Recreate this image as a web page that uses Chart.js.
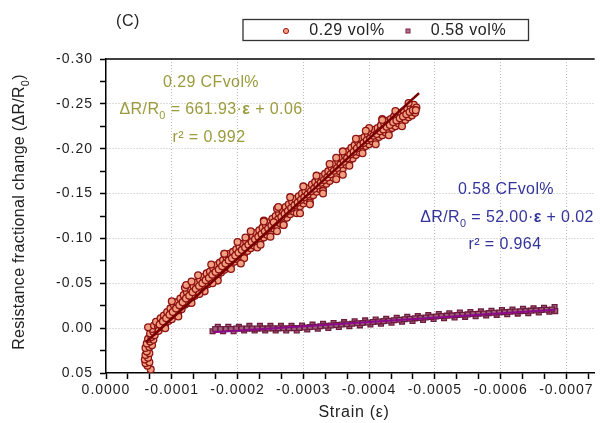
<!DOCTYPE html>
<html><head><meta charset="utf-8">
<script src="https://cdn.jsdelivr.net/npm/chart.js@4"></script>
<style>html,body{margin:0;padding:0;background:#fff;overflow:hidden}canvas{display:block}</style>
</head><body>
<canvas id="c" width="600" height="423"></canvas>
<script>
// ---- data (strain, ΔR/R0) ----
const seriesNames = ['0.29 vol%', '0.58 vol%'];
const series029 = [
[-0.68e-4,0.046],[-0.63e-4,0.042],[-0.60e-4,0.039],[-0.66e-4,0.038],[-0.59e-4,0.035],[-0.64e-4,0.033],[-0.60e-4,0.030],[-0.66e-4,0.028],[-0.62e-4,0.026],[-0.60e-4,0.022],[-0.66e-4,0.021],[-0.70e-4,0.019],[-0.62e-4,0.017],[-0.67e-4,0.015],[-0.72e-4,0.013],[-0.64e-4,0.012],[-0.69e-4,0.010],[-0.74e-4,0.008],[-0.67e-4,0.006],[-0.72e-4,0.004],[-0.77e-4,0.003],[-0.70e-4,0.001],[-0.64e-4,-0.001],[-0.73e-4,-0.003],[-0.79e-4,-0.002],[-0.76e-4,-0.007],[-0.81e-4,0.000],
[-0.80e-4,0.003],[-0.83e-4,-0.011],[-0.85e-4,-0.001],[-0.88e-4,-0.014],[-0.90e-4,-0.004],[-0.93e-4,-0.018],[-0.95e-4,-0.008],[-0.98e-4,-0.022],[-1.00e-4,-0.010],[-1.03e-4,-0.026],[-1.05e-4,-0.015],[-1.08e-4,-0.029],[-1.10e-4,-0.018],[-1.13e-4,-0.033],[-1.15e-4,-0.021],[-1.18e-4,-0.037],[-1.20e-4,-0.026],[-1.23e-4,-0.040],[-1.25e-4,-0.028],[-1.28e-4,-0.044],[-1.30e-4,-0.033],[-1.33e-4,-0.047],[-1.35e-4,-0.036],[-1.38e-4,-0.051],[-1.40e-4,-0.040],[-1.43e-4,-0.054],[-1.45e-4,-0.043],[-1.48e-4,-0.057],[-1.50e-4,-0.046],[-1.53e-4,-0.061],[-1.55e-4,-0.049],[-1.58e-4,-0.063],[-1.60e-4,-0.052],[-1.63e-4,-0.067],[-1.65e-4,-0.055],[-1.68e-4,-0.070],[-1.70e-4,-0.058],[-1.73e-4,-0.073],[-1.75e-4,-0.062],[-1.78e-4,-0.076],[-1.80e-4,-0.065],[-1.83e-4,-0.079],[-1.85e-4,-0.068],[-1.88e-4,-0.083],[-1.90e-4,-0.071],[-1.93e-4,-0.085],[-1.95e-4,-0.074],[-1.98e-4,-0.088],[-2.00e-4,-0.077],[-2.03e-4,-0.091],[-2.05e-4,-0.080],[-2.08e-4,-0.094],[-2.10e-4,-0.083],[-2.13e-4,-0.097],[-2.15e-4,-0.086],[-2.18e-4,-0.100],[-2.20e-4,-0.089],[-2.23e-4,-0.103],[-2.25e-4,-0.092],[-2.28e-4,-0.106],[-2.30e-4,-0.095],[-2.33e-4,-0.109],[-2.35e-4,-0.098],[-2.38e-4,-0.112],[-2.40e-4,-0.101],[-2.43e-4,-0.115],[-2.45e-4,-0.104],[-2.48e-4,-0.118],[-2.50e-4,-0.107],[-2.53e-4,-0.122],[-2.55e-4,-0.111],[-2.58e-4,-0.125],[-2.60e-4,-0.114],[-2.63e-4,-0.128],[-2.65e-4,-0.117],[-2.68e-4,-0.131],[-2.70e-4,-0.120],[-2.73e-4,-0.135],[-2.75e-4,-0.123],[-2.78e-4,-0.138],[-2.80e-4,-0.127],[-2.83e-4,-0.141],[-2.85e-4,-0.130],[-2.88e-4,-0.144],[-2.90e-4,-0.133],[-2.93e-4,-0.147],[-2.95e-4,-0.136],[-2.98e-4,-0.150],[-3.00e-4,-0.139],[-3.03e-4,-0.153],[-3.05e-4,-0.142],[-3.08e-4,-0.156],[-3.10e-4,-0.145],[-3.13e-4,-0.160],[-3.15e-4,-0.148],[-3.18e-4,-0.163],[-3.20e-4,-0.152],[-3.23e-4,-0.166],[-3.25e-4,-0.155],[-3.28e-4,-0.169],[-3.30e-4,-0.158],[-3.33e-4,-0.172],[-3.35e-4,-0.161],[-3.38e-4,-0.175],[-3.40e-4,-0.164],[-3.43e-4,-0.179],[-3.45e-4,-0.168],[-3.48e-4,-0.183],[-3.50e-4,-0.171],[-3.53e-4,-0.186],[-3.55e-4,-0.175],[-3.58e-4,-0.190],[-3.60e-4,-0.178],[-3.63e-4,-0.193],[-3.65e-4,-0.182],[-3.68e-4,-0.197],[-3.70e-4,-0.186],[-3.73e-4,-0.201],[-3.75e-4,-0.189],[-3.78e-4,-0.204],[-3.80e-4,-0.193],[-3.83e-4,-0.208],[-3.85e-4,-0.196],[-3.88e-4,-0.211],[-3.90e-4,-0.200],[-3.93e-4,-0.213],[-3.95e-4,-0.203],[-3.98e-4,-0.216],[-4.00e-4,-0.205],[-4.03e-4,-0.218],[-4.05e-4,-0.208],[-4.08e-4,-0.221],[-4.10e-4,-0.210],[-4.13e-4,-0.223],[-4.15e-4,-0.213],[-4.18e-4,-0.226],[-4.20e-4,-0.215],[-4.23e-4,-0.228],[-4.25e-4,-0.218],[-4.28e-4,-0.231],[-4.30e-4,-0.220],[-4.33e-4,-0.233],[-4.35e-4,-0.223],[-4.38e-4,-0.236],[-4.40e-4,-0.225],[-4.43e-4,-0.238],[-4.45e-4,-0.228],[-4.48e-4,-0.240],[-4.50e-4,-0.230],[-4.53e-4,-0.242],[-4.55e-4,-0.232],[-4.58e-4,-0.245],[-4.60e-4,-0.235],[-4.63e-4,-0.247],[-4.65e-4,-0.237],[-4.68e-4,-0.249],[-4.70e-4,-0.240],[-4.72e-4,-0.246],
[-0.815e-4,-0.004],[-0.865e-4,-0.0075],[-0.915e-4,-0.011],[-0.965e-4,-0.015],[-1.015e-4,-0.018],[-1.065e-4,-0.022],[-1.115e-4,-0.0255],[-1.165e-4,-0.029],[-1.215e-4,-0.033],[-1.265e-4,-0.036],[-1.315e-4,-0.040],[-1.365e-4,-0.0435],[-1.415e-4,-0.047],[-1.465e-4,-0.050],[-1.515e-4,-0.0535],[-1.565e-4,-0.056],[-1.615e-4,-0.0595],[-1.665e-4,-0.0625],[-1.715e-4,-0.0655],[-1.765e-4,-0.069],[-1.815e-4,-0.072],[-1.865e-4,-0.0755],[-1.915e-4,-0.078],[-1.965e-4,-0.081],[-2.015e-4,-0.084],[-2.065e-4,-0.087],[-2.115e-4,-0.090],[-2.165e-4,-0.093],[-2.215e-4,-0.096],[-2.265e-4,-0.099],[-2.315e-4,-0.102],[-2.365e-4,-0.105],[-2.415e-4,-0.108],[-2.465e-4,-0.111],[-2.515e-4,-0.1145],[-2.565e-4,-0.118],[-2.615e-4,-0.121],[-2.665e-4,-0.124],[-2.715e-4,-0.1275],[-2.765e-4,-0.1305],[-2.815e-4,-0.134],[-2.865e-4,-0.137],[-2.915e-4,-0.140],[-2.965e-4,-0.143],[-3.015e-4,-0.146],[-3.065e-4,-0.149],[-3.115e-4,-0.1525],[-3.165e-4,-0.1555],[-3.215e-4,-0.159],[-3.265e-4,-0.162],[-3.315e-4,-0.165],[-3.365e-4,-0.168],[-3.415e-4,-0.1715],[-3.465e-4,-0.1755],[-3.515e-4,-0.1785],[-3.565e-4,-0.1825],[-3.615e-4,-0.1855],[-3.665e-4,-0.1895],[-3.715e-4,-0.1935],[-3.765e-4,-0.1965],[-3.815e-4,-0.2005],[-3.865e-4,-0.2035],[-3.915e-4,-0.2065],[-3.965e-4,-0.2095],[-4.015e-4,-0.2115],[-4.065e-4,-0.2145],[-4.115e-4,-0.2165],[-4.165e-4,-0.2195],[-4.215e-4,-0.2215],[-4.265e-4,-0.2245],[-4.315e-4,-0.2265],[-4.365e-4,-0.2295],[-4.415e-4,-0.2315],[-4.465e-4,-0.234],[-4.515e-4,-0.236],[-4.565e-4,-0.2385],[-4.615e-4,-0.241],[-4.665e-4,-0.243],[-4.71e-4,-0.243],
[-0.90e-4,0.000],[-1.10e-4,-0.013],[-1.30e-4,-0.028],[-1.50e-4,-0.041],[-1.70e-4,-0.053],[-1.90e-4,-0.066],[-2.10e-4,-0.078],[-2.30e-4,-0.090],[-2.50e-4,-0.102],[-2.70e-4,-0.115],[-2.90e-4,-0.128],[-3.10e-4,-0.140],[-3.30e-4,-0.153],[-3.50e-4,-0.166],[-3.70e-4,-0.181],[-3.90e-4,-0.195],[-4.10e-4,-0.205],[-4.30e-4,-0.215],[-4.50e-4,-0.225],
[-1.00e-4,-0.030],[-1.20e-4,-0.045],[-1.40e-4,-0.059],[-1.60e-4,-0.071],[-1.80e-4,-0.083],[-2.00e-4,-0.096],[-2.20e-4,-0.108],[-2.40e-4,-0.120],[-2.60e-4,-0.133],[-2.80e-4,-0.146],[-3.00e-4,-0.158],[-3.20e-4,-0.170],[-3.40e-4,-0.183],[-3.60e-4,-0.197],[-3.80e-4,-0.211],[-4.00e-4,-0.223],[-4.20e-4,-0.233],[-4.40e-4,-0.242],[-4.60e-4,-0.251],
[-1.22e-4,-0.048],[-1.30e-4,-0.052],[-1.42e-4,-0.038],[-1.62e-4,-0.050],[-2.05e-4,-0.072],[-2.35e-4,-0.093],[-2.60e-4,-0.108],[-2.70e-4,-0.115],[-2.95e-4,-0.128],[-3.10e-4,-0.138],[-3.30e-4,-0.150],[-3.60e-4,-0.171],[-2.62e-4,-0.135],[-1.80e-4,-0.083],[-2.12e-4,-0.101],[-2.40e-4,-0.119],[-3.50e-4,-0.190],[-3.95e-4,-0.220],[-4.20e-4,-0.232],[-2.55e-4,-0.118]
];
const series058 = [
[-1.62e-4,0.0035],[-1.70e-4,-0.0015],[-1.78e-4,0.0035],[-1.86e-4,-0.0015],[-1.94e-4,0.0035],[-2.02e-4,-0.0015],[-2.10e-4,0.0025],[-2.18e-4,-0.0025],[-2.26e-4,0.0025],[-2.34e-4,-0.0025],[-2.42e-4,0.0025],[-2.50e-4,-0.0025],[-2.58e-4,0.0025],[-2.66e-4,-0.0025],[-2.74e-4,0.0025],[-2.82e-4,-0.0025],[-2.90e-4,0.0025],[-2.98e-4,-0.003],[-3.06e-4,0.0015],[-3.14e-4,-0.0039],[-3.22e-4,0.0006],[-3.30e-4,-0.0048],[-3.38e-4,-0.0003],[-3.46e-4,-0.0058],[-3.54e-4,-0.0012],[-3.62e-4,-0.0067],[-3.70e-4,-0.0022],[-3.78e-4,-0.0076],[-3.86e-4,-0.0031],[-3.94e-4,-0.0086],[-4.02e-4,-0.0040],[-4.10e-4,-0.0095],[-4.18e-4,-0.0050],[-4.26e-4,-0.0105],[-4.34e-4,-0.0061],[-4.42e-4,-0.0116],[-4.50e-4,-0.0071],[-4.58e-4,-0.0126],[-4.66e-4,-0.0081],[-4.74e-4,-0.0136],[-4.82e-4,-0.0092],[-4.90e-4,-0.0147],[-4.98e-4,-0.0102],[-5.06e-4,-0.0157],[-5.14e-4,-0.0112],[-5.22e-4,-0.0165],[-5.30e-4,-0.0119],[-5.38e-4,-0.0173],[-5.46e-4,-0.0126],[-5.54e-4,-0.0180],[-5.62e-4,-0.0133],[-5.70e-4,-0.0187],[-5.78e-4,-0.0141],[-5.86e-4,-0.0194],[-5.94e-4,-0.0148],[-6.02e-4,-0.0201],[-6.10e-4,-0.0155],[-6.18e-4,-0.0208],[-6.26e-4,-0.0162],[-6.34e-4,-0.0215],[-6.42e-4,-0.0168],[-6.50e-4,-0.0222],[-6.58e-4,-0.0175],[-6.66e-4,-0.0228],[-6.74e-4,-0.0182],[-6.82e-4,-0.0235],[-6.83e-4,-0.0190],
[-1.66e-4,0.001],[-1.74e-4,0.001],[-1.82e-4,0.001],[-1.90e-4,0.001],[-1.98e-4,0.0005],[-2.06e-4,0.0005],[-2.14e-4,0.0005],[-2.22e-4,0.0005],[-2.30e-4,0.0005],[-2.38e-4,0.0003],[-2.46e-4,0.0003],[-2.54e-4,0.0002],[-2.62e-4,0.0002],[-2.70e-4,0.0001],[-2.78e-4,0.0001],[-2.86e-4,0.000],[-2.94e-4,-0.0002],[-3.02e-4,-0.0007],[-3.10e-4,-0.0012],[-3.18e-4,-0.0016],[-3.26e-4,-0.0021],[-3.34e-4,-0.0026],[-3.42e-4,-0.0030],[-3.50e-4,-0.0035],[-3.58e-4,-0.0040],[-3.66e-4,-0.0044],[-3.74e-4,-0.0049],[-3.82e-4,-0.0054],[-3.90e-4,-0.0058],[-3.98e-4,-0.0063],[-4.06e-4,-0.0068],[-4.14e-4,-0.0073],[-4.22e-4,-0.0078],[-4.30e-4,-0.0083],[-4.38e-4,-0.0088],[-4.46e-4,-0.0093],[-4.54e-4,-0.0099],[-4.62e-4,-0.0104],[-4.70e-4,-0.0109],[-4.78e-4,-0.0114],[-4.86e-4,-0.0119],[-4.94e-4,-0.0125],[-5.02e-4,-0.0130],[-5.10e-4,-0.0135],[-5.18e-4,-0.0139],[-5.26e-4,-0.0142],[-5.34e-4,-0.0146],[-5.42e-4,-0.0149],[-5.50e-4,-0.0153],[-5.58e-4,-0.0157],[-5.66e-4,-0.0160],[-5.74e-4,-0.0164],[-5.82e-4,-0.0167],[-5.90e-4,-0.0171],[-5.98e-4,-0.0175],[-6.06e-4,-0.0178],[-6.14e-4,-0.0182],[-6.22e-4,-0.0185],[-6.30e-4,-0.0188],[-6.38e-4,-0.0192],[-6.46e-4,-0.0195],[-6.54e-4,-0.0198],[-6.62e-4,-0.0202],[-6.70e-4,-0.0205],[-6.78e-4,-0.0208]
];
// linear fit lines (end points)
const fit029 = [[-0.61e-4, 0.0155], [-4.76e-4, -0.262]];
const fit058 = [[-1.63e-4, 0.0045], [-6.83e-4, -0.0205]];
// ticks
const xTickValues = [0, -1e-4, -2e-4, -3e-4, -4e-4, -5e-4, -6e-4, -7e-4];
const xTickLabels = ['0.0000','-0.0001','-0.0002','-0.0003','-0.0004','-0.0005','-0.0006','-0.0007'];
const yTickValues = [-0.30, -0.25, -0.20, -0.15, -0.10, -0.05, 0.00, 0.05];
const yTickLabels = ['-0.30','-0.25','-0.20','-0.15','-0.10','-0.05','0.00','0.05'];
const xMin = -0.000743, xMax = 0, yMin = -0.30, yMax = 0.05;

const FONT = '"Liberation Sans", Arial, sans-serif';
const toXY = arr => arr.map(p => ({x: p[0], y: p[1]}));
const findIdx = (vals, v) => vals.findIndex(t => Math.abs(t - v) < 1e-9);

function xTicksAll() {
  const out = [];
  for (let j = 22; j >= 0; j--) out.push({value: -j * 1e-4 / 3});
  return out;
}
function yTicksAll() {
  const out = [];
  for (let i = 0; i <= 14; i++) out.push({value: yMin + i * 0.025});
  return out;
}

function rich(ctx, parts, cx, cy, size, color, spacing) {
  ctx.save();
  ctx.letterSpacing = (spacing || 0) + 'px';
  let w = 0;
  for (const p of parts) {
    ctx.font = (p.b ? 'bold ' : '') + (p.s ? size * 0.68 : size) + 'px ' + FONT;
    p._w = ctx.measureText(p.t).width; w += p._w;
  }
  let x = cx - w / 2;
  ctx.textAlign = 'left'; ctx.textBaseline = 'middle'; ctx.fillStyle = color;
  for (const p of parts) {
    ctx.font = (p.b ? 'bold ' : '') + (p.s ? size * 0.68 : size) + 'px ' + FONT;
    ctx.fillText(p.t, x, cy + (p.s ? size * 0.36 : 0));
    x += p._w;
  }
  ctx.restore();
}

const deco = {
  id: 'deco',
  beforeLayout(chart) { chart.ctx.letterSpacing = '1px'; },
  beforeDraw(chart) {
    const ctx = chart.ctx;
    ctx.save(); ctx.fillStyle = '#fff'; ctx.fillRect(0, 0, chart.width, chart.height); ctx.restore();
    ctx.letterSpacing = '1px';
  },
  afterDraw(chart) {
    const ctx = chart.ctx, a = chart.chartArea;
    ctx.save();
    ctx.strokeStyle = '#000'; ctx.lineWidth = 1.5;
    ctx.beginPath(); ctx.moveTo(a.left, a.top); ctx.lineTo(a.right, a.top); ctx.stroke();
    // legend
    ctx.strokeStyle = '#333'; ctx.lineWidth = 1.3;
    ctx.strokeRect(243, 19.5, 285.5, 21);
    ctx.beginPath(); ctx.arc(286, 31, 2.6, 0, Math.PI * 2);
    ctx.fillStyle = '#F2A080'; ctx.fill(); ctx.strokeStyle = '#A01818'; ctx.lineWidth = 1; ctx.stroke();
    ctx.fillStyle = '#B07890'; ctx.fillRect(406, 29, 4, 4);
    ctx.strokeStyle = '#7A1E42'; ctx.strokeRect(406, 29, 4, 4);
    ctx.restore();
    rich(ctx, [{t: seriesNames[0]}], 347, 31, 16, '#222', 0.6);
    rich(ctx, [{t: seriesNames[1]}], 468.5, 31, 16, '#222', 0.6);
    rich(ctx, [{t: '(C)'}], 128, 21.5, 16, '#222', 0.6);
    // annotations
    const olive = '#9b9b3d', blue = '#34349c';
    rich(ctx, [{t: '0.29 CFvol%'}], 211, 83, 16, olive, 0.4);
    rich(ctx, [{t: 'ΔR/R'}, {t: '0', s: 1}, {t: ' = 661.93·'}, {t: 'ε', b: 1}, {t: ' + 0.06'}], 211, 110, 16, olive, 0.4);
    rich(ctx, [{t: 'r² = 0.992'}], 209, 138, 16, olive, 0.4);
    rich(ctx, [{t: '0.58 CFvol%'}], 506, 190, 16, blue, 0.4);
    rich(ctx, [{t: 'ΔR/R'}, {t: '0', s: 1}, {t: ' = 52.00·'}, {t: 'ε', b: 1}, {t: ' + 0.02'}], 507, 218, 16, blue, 0.4);
    rich(ctx, [{t: 'r² = 0.964'}], 505, 245, 16, blue, 0.4);
    // axis titles
    rich(ctx, [{t: 'Strain (ε)'}], 354, 413, 16, '#222', 0.7);
    ctx.save();
    ctx.translate(20, 212); ctx.rotate(-Math.PI / 2);
    rich(ctx, [{t: 'Resistance fractional change (ΔR/R'}, {t: '0', s: 1}, {t: ')'}], 0, 0, 16, '#222', 0.3);
    ctx.restore();
  }
};

Chart.defaults.font.family = FONT;
Chart.defaults.font.size = 14;
Chart.defaults.color = '#1e1e1e';

const gridGray = '#bcbcbc';
new Chart(document.getElementById('c'), {
  type: 'scatter',
  data: {
    datasets: [
      {label: seriesNames[0], data: toXY(series029), pointStyle: 'circle', pointRadius: 3.4,
       pointBackgroundColor: '#F0A080', pointBorderColor: '#8E1212', pointBorderWidth: 1.3, order: 3},
      {label: seriesNames[1], data: toXY(series058), pointStyle: 'rect', pointRadius: 3.4,
       pointBackgroundColor: '#A06080', pointBorderColor: '#6E1C3C', pointBorderWidth: 1.3, order: 3},
      {label: 'fit029', data: toXY(fit029), showLine: true, pointRadius: 0, borderColor: '#780000', borderWidth: 2.6, order: 1},
      {label: 'fit058', data: toXY(fit058), showLine: true, pointRadius: 0, borderColor: '#8a0a8a', borderWidth: 2, order: 1}
    ]
  },
  options: {
    responsive: false, animation: false, devicePixelRatio: 1,
    layout: {padding: {top: 59, left: 0, right: 0, bottom: 0}},
    plugins: {legend: {display: false}, tooltip: {enabled: false}},
    scales: {
      x: {
        type: 'linear', min: xMin, max: xMax, reverse: true,
        afterBuildTicks: s => { s.ticks = xTicksAll(); },
        afterFit: s => { s.height = 50; },
        ticks: {autoSkip: false, maxRotation: 0, padding: 3,
          callback: v => { const k = findIdx(xTickValues, v); return k >= 0 ? xTickLabels[k] : ''; }},
        grid: {
          color: c => { const k = findIdx(xTickValues, c.tick.value); return (k > 0) ? gridGray : 'rgba(0,0,0,0)'; },
          lineWidth: 1, tickLength: 6, tickColor: '#000', tickWidth: 1.5, tickBorderDash: [10, 0]
        },
        border: {display: true, color: '#000', width: 1.5, dash: [1, 2]}
      },
      y: {
        type: 'linear', min: yMin, max: yMax, reverse: true,
        afterBuildTicks: s => { s.ticks = yTicksAll(); },
        afterFit: s => { s.width = 106; },
        ticks: {autoSkip: false, padding: 7,
          callback: v => { const k = findIdx(yTickValues, v); return k >= 0 ? yTickLabels[k] : ''; }},
        grid: {
          color: c => { const k = findIdx(yTickValues, c.tick.value); return (k > 0 && k < yTickValues.length - 1) ? gridGray : 'rgba(0,0,0,0)'; },
          lineWidth: 1, tickLength: 6, tickColor: '#000', tickWidth: 1.5, tickBorderDash: [10, 0]
        },
        border: {display: true, color: '#000', width: 1.5, dash: [1, 2]}
      }
    }
  },
  plugins: [deco]
});
</script>
</body></html>
